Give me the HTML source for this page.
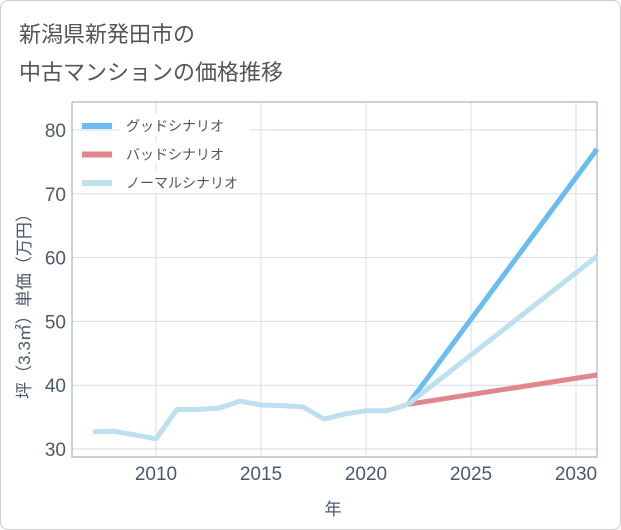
<!DOCTYPE html>
<html><head><meta charset="utf-8"><style>
body{margin:0;background:#fff}
.wrap{position:relative;width:619px;height:528px;border:1px solid #ccc;border-radius:8px;background:#fff;overflow:hidden}
.t{position:absolute;left:18px;font-family:"Liberation Sans","Noto Sans CJK JP",sans-serif;font-size:22px;color:#555}
svg text{font-family:"Liberation Sans","Noto Sans CJK JP",sans-serif}
</style></head><body>
<div class="wrap">
<div class="t" style="top:16px">新潟県新発田市の</div>
<div class="t" style="top:54px">中古マンションの価格推移</div>
<svg id="c" width="621" height="530" style="position:absolute;left:-1px;top:-1px"></svg>
</div>
<script>
const years=[2007,2008,2009,2010,2011,2012,2013,2014,2015,2016,2017,2018,2019,2020,2021,2022];
const normalHist=[32.7,32.8,32.2,31.6,36.2,36.2,36.4,37.5,36.9,36.8,36.6,34.7,35.5,36.0,36.0,37.0];
const projYears=[2022,2031];
const goodProj=[37.0,77.0];
const badProj=[37.0,41.6];
const normalProj=[37.0,60.2];
const yTicks=[30,40,50,60,70,80];
const xTicks=[2010,2015,2020,2025,2030];
const L=72,R=597,T=102,B=457;
const xs=v=>156+(v-2010)*21;
const ys=v=>449-(v-30)*6.38;
const svg=document.getElementById('c');
const NS='http://www.w3.org/2000/svg';
function mk(tag,a,p){const e=document.createElementNS(NS,tag);for(const k in a)e.setAttribute(k,a[k]);(p||svg).appendChild(e);return e;}
yTicks.forEach(v=>{const l=mk('line',{x1:L,x2:R,y1:ys(v),y2:ys(v),stroke:'#d5dde6','stroke-width':1});

const t=mk('text',{x:L-6,y:ys(v)+7,'text-anchor':'end','font-size':19,fill:'#4a5a6a'});t.textContent=v;
});
xTicks.forEach(v=>{const l=mk('line',{x1:xs(v),x2:xs(v),y1:T,y2:B,stroke:'#d5dde6','stroke-width':1});

const t=mk('text',{x:xs(v),y:B+23,'text-anchor':'middle','font-size':19,fill:'#4a5a6a'});t.textContent=v;
});
const ax=mk('path',{d:`M${L},${T}V${B}H${R}V${T}H${L}`,fill:'none',stroke:'#aab4be','stroke-width':1.2});

function line(xv,yv,col,name){const d=xv.map((x,i)=>(i?'L':'M')+xs(x)+','+ys(yv[i])).join('');
const p=mk('path',{d,fill:'none',stroke:col,'stroke-width':5,'stroke-linejoin':'round'});
}
line(projYears,goodProj,'#6bbcf0','good-scenario-line');
line(projYears,badProj,'#e0868c','bad-scenario-line');
line(projYears,normalProj,'#bde0ee','normal-scenario-projection');
line(years,normalHist,'#bde0ee','normal-scenario-history');
const leg=[['グッドシナリオ','#6bbcf0'],['バッドシナリオ','#e0868c'],['ノーマルシナリオ','#bde0ee']];
leg.forEach((g,i)=>{const y=126+i*28.5;
const r=mk('rect',{x:120,y:y-12,width:130,height:22,fill:'#fff'});
const l=mk('line',{x1:82,x2:112,y1:y,y2:y,stroke:g[1],'stroke-width':6});

const t=mk('text',{x:126,y:y+5,'font-size':14,fill:'#555'});t.textContent=g[0];
});
const xt=mk('text',{x:333,y:515,'text-anchor':'middle','font-size':17,fill:'#4a5a6a'});xt.textContent='年';

const yt=mk('text',{x:0,y:0,'text-anchor':'middle','font-size':17,fill:'#4a5a6a',transform:'translate(30,302) rotate(-90)'});yt.textContent='坪（3.3㎡）単価（万円）';

</script>
</body></html>
